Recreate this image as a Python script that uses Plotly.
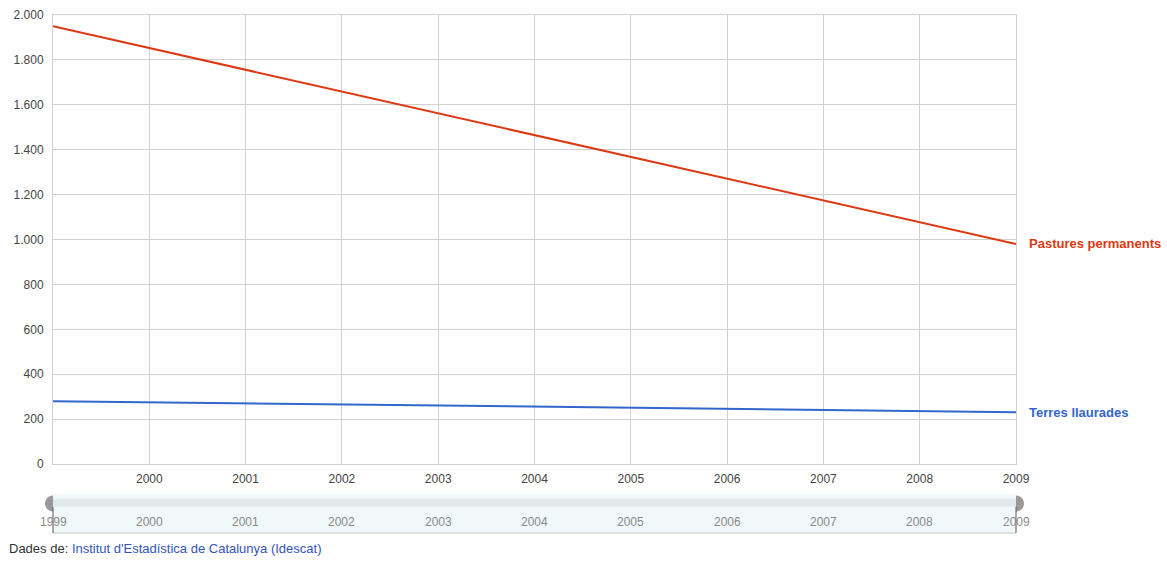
import plotly.graph_objects as go

years = [1999, 2009]
all_years = list(range(1999, 2010))
pastures = [1950, 980]
terres = [280, 231]
y_ticks = list(range(0, 2001, 200))

series_names = ["Pastures permanents", "Terres llaurades"]
series_colors = ["#dc3912", "#3366cc"]
series_values = [pastures, terres]

FONT = "Liberation Sans, Arial, sans-serif"

fig = go.Figure()

for name, col, vals in zip(series_names, series_colors, series_values):
    fig.add_trace(go.Scatter(x=years, y=vals, mode="lines", name=name,
                             line=dict(color=col, width=2), hoverinfo="x+y",
                             xaxis="x", yaxis="y"))
    fig.add_annotation(x=years[-1], y=vals[-1], xref="x", yref="y", text=name,
                       showarrow=False, xanchor="left", xshift=11,
                       font=dict(family=FONT, size=13, color=col, weight="bold"))

# slider background & band
fig.add_shape(type="rect", xref="x2 domain", yref="y2 domain", x0=0, x1=1, y0=0, y1=1,
              fillcolor="#f0f8fa", line=dict(width=0), layer="below")
fig.add_shape(type="rect", xref="x2 domain", yref="y2 domain", x0=0, x1=1, y0=0.67, y1=0.88,
              fillcolor="#e1e9eb", line=dict(width=0), layer="below")
fig.add_shape(type="line", xref="x2 domain", yref="y2 domain", x0=0, x1=1, y0=0, y1=0,
              line=dict(color="#c8c8c8", width=1))

# range handles (half circles outside the selected range) and their thin lines
r = 8
k = 0.55 * r
left_path = f"M0,{-r} C{-k},{-r} {-r},{-k} {-r},0 C{-r},{k} {-k},{r} 0,{r} Z"
right_path = f"M0,{-r} C{k},{-r} {r},{-k} {r},0 C{r},{k} {k},{r} 0,{r} Z"
for xa, path in [(0, left_path), (1, right_path)]:
    fig.add_shape(type="path", xref="x2 domain", yref="y2 domain",
                  xsizemode="pixel", ysizemode="pixel",
                  xanchor=xa, yanchor=0.756, path=path,
                  fillcolor="#9a9a9a", line=dict(width=0))
    fig.add_shape(type="line", xref="x2 domain", yref="y2 domain", x0=xa, x1=xa, y0=0, y1=0.67,
                  line=dict(color="#555555", width=1))

for yr in all_years:
    fig.add_annotation(x=yr, y=0.27, xref="x2", yref="y2", text=str(yr), showarrow=False,
                       font=dict(family=FONT, size=12, color="#8a8a8a"))

fig.add_annotation(x=0, y=0, xref="paper", yref="paper", xanchor="left", yanchor="top",
                   xshift=-46, yshift=-6, showarrow=False, align="left",
                   text="<span style='color:#333333'>Dades de: </span>"
                        "<span style='color:#3355bb'>Institut d'Estadística de Catalunya (Idescat)</span>",
                   font=dict(family=FONT, size=13))

fig.update_layout(
    width=1167, height=561,
    margin=dict(l=53, r=151, t=15, b=28, autoexpand=False),
    paper_bgcolor="white", plot_bgcolor="white",
    separators=",.",
    showlegend=False,
    font=dict(family=FONT, size=12, color="#444444"),
    xaxis=dict(domain=[0, 1], range=[1999, 2009], tickvals=all_years[1:],
               showgrid=True, gridcolor="#d0d0d0", gridwidth=1,
               showline=True, linecolor="#d0d0d0", mirror=True,
               ticks="outside", ticklen=4, tickcolor="rgba(0,0,0,0)",
               zeroline=False, anchor="y", automargin=False,
               tickfont=dict(family=FONT, size=12, color="#444444")),
    yaxis=dict(domain=[0.1332, 1], range=[0, 2000], tickvals=y_ticks, tickformat=",d",
               showgrid=True, gridcolor="#d0d0d0", gridwidth=1,
               showline=True, linecolor="#d0d0d0", mirror=True,
               ticks="outside", ticklen=6, tickcolor="rgba(0,0,0,0)",
               zeroline=False, anchor="x", automargin=False,
               tickfont=dict(family=FONT, size=12, color="#444444")),
    xaxis2=dict(domain=[0, 1], range=[1999, 2009], anchor="y2", showgrid=False,
                showticklabels=False, zeroline=False, showline=False, fixedrange=True,
                automargin=False),
    yaxis2=dict(domain=[0, 0.0753], range=[0, 1], anchor="x2", showgrid=False,
                showticklabels=False, zeroline=False, showline=False, fixedrange=True,
                automargin=False),
)

fig.write_html("out.html")
